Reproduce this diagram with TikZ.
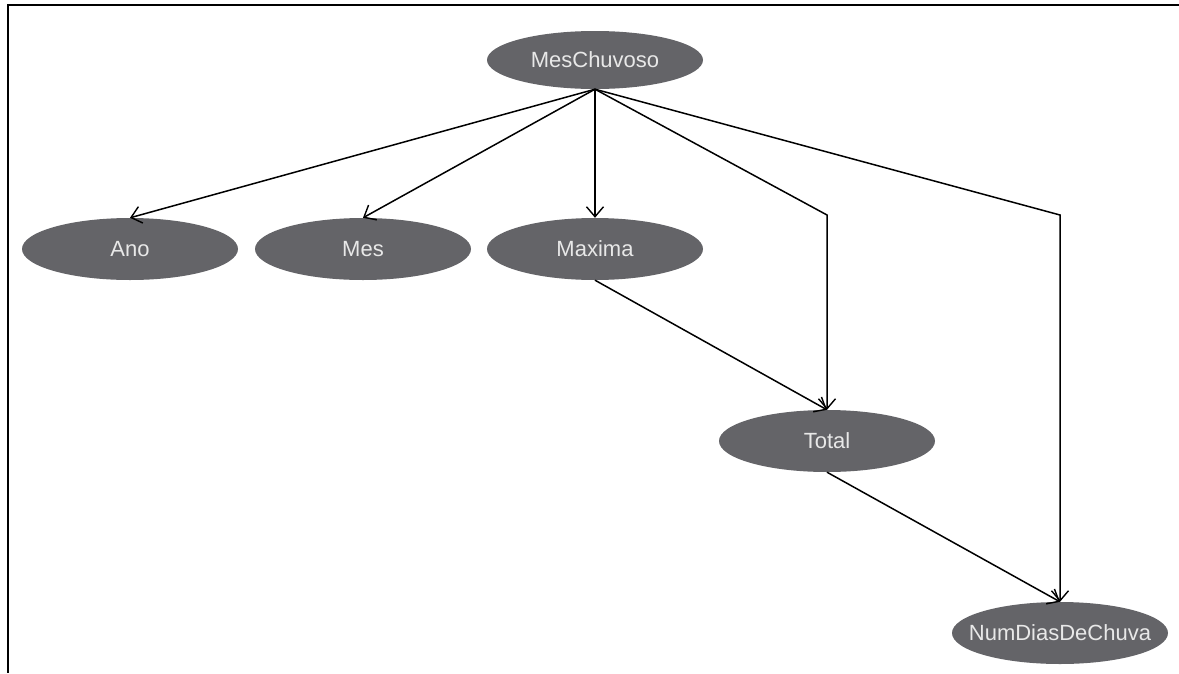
\documentclass[tikz,border=0pt]{standalone}
\usepackage{fontspec}
\setmainfont{Liberation Sans}
\usetikzlibrary{shapes.geometric,arrows.meta}
\definecolor{nodegrey}{HTML}{646468}
\definecolor{nodetext}{HTML}{E8E8E8}
\newcommand\vlabel[1]{\makebox[0pt]{#1}}
\begin{document}
\begin{tikzpicture}[x=1pt,y=-1pt,
  varnode/.style={ellipse,fill=nodegrey,draw=none,minimum width=216pt,minimum height=62pt,inner sep=0pt,
    text=nodetext,font=\fontsize{22}{25}\selectfont},
  edge/.style={draw=black,line width=1.5pt,-{Straight Barb[length=10pt,width=17pt,line width=1.4pt]}},
  frame/.style={draw=black,line width=2pt}]
\useasboundingbox (0,0) rectangle (1179,673);
\draw[frame] (1179,5) -- (8,5) -- (8,673);
\node[varnode,minimum height=58pt] (mc) at (595,60) {\vlabel{MesChuvoso}};
\node[varnode] (ano) at (130,249) {\vlabel{Ano}};
\node[varnode] (mes) at (363,249) {\vlabel{Mes}};
\node[varnode] (max) at (595,249) {\vlabel{Maxima}};
\node[varnode] (tot) at (827,441) {\vlabel{Total}};
\node[varnode] (num) at (1060,633) {\vlabel{NumDiasDeChuva}};
\coordinate (b1) at (827,215);
\coordinate (b2) at (1060,215);
\draw[edge] (mc.south) -- (ano.north);
\draw[edge] (mc.south) -- (mes.north);
\draw[edge] (mc.south) -- (max.north);
\draw[edge] (mc.south) -- (b1) -- (tot.north);
\draw[edge] (mc.south) -- (b2) -- (num.north);
\draw[edge] (max.south) -- (tot.north);
\draw[edge] (tot.south) -- (num.north);
\end{tikzpicture}
\end{document}
